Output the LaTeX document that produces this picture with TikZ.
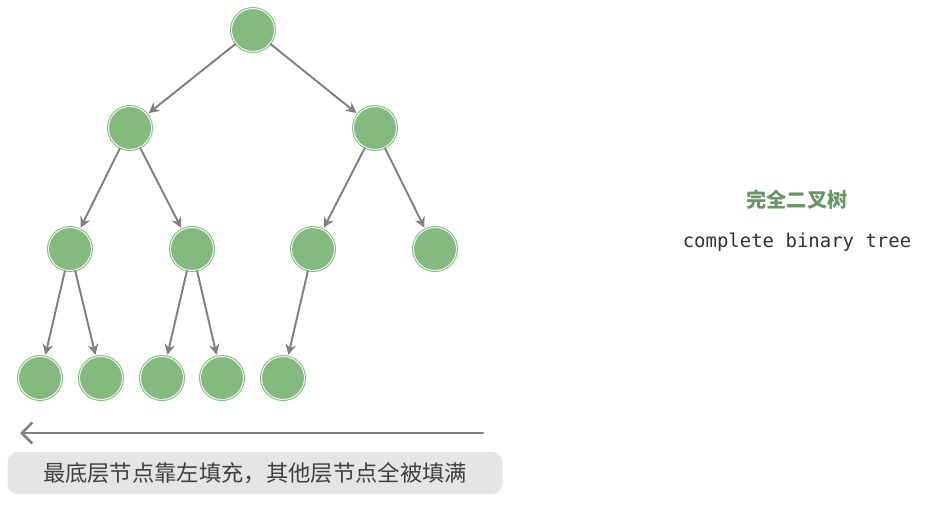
\documentclass[tikz,border=0pt]{standalone}
\usepackage{fontspec}
\newfontfamily\cjk{Noto Sans CJK SC}
\setmonofont{DejaVu Sans Mono}
\usetikzlibrary{arrows.meta}
\definecolor{nodegreen}{HTML}{84BA80}
\definecolor{edgegray}{HTML}{808080}
\definecolor{boxgray}{HTML}{E5E5E5}
\tikzset{
  treenode/.style={circle, fill=nodegreen, draw=nodegreen, double=white,
    double distance=0.5pt, line width=0.6pt, minimum size=0.86cm, inner sep=0pt},
  treeedge/.style={draw=edgegray, line width=1.1pt, -{Stealth[length=6pt,width=6pt]}, shorten >=1pt}
}
\begin{document}
\begin{tikzpicture}[x=0.02cm, y=-0.02cm]
    \useasboundingbox (0,0) rectangle (945,508);

    % levels of the tree
    \node[treenode] (r) at (253,30) {};
    \node[treenode] (a) at (130,128) {};
    \node[treenode] (b) at (375,128) {};
    \node[treenode] (aa) at (70,249) {};
    \node[treenode] (ab) at (192,249) {};
    \node[treenode] (ba) at (313,249) {};
    \node[treenode] (bb) at (435,249) {};
    \node[treenode] (aaa) at (40,378) {};
    \node[treenode] (aab) at (101,378) {};
    \node[treenode] (aba) at (162,378) {};
    \node[treenode] (abb) at (222,378) {};
    \node[treenode] (baa) at (283,378) {};

    \foreach \p/\c in {r/a, r/b, a/aa, a/ab, b/ba, b/bb, aa/aaa, aa/aab, ab/aba, ab/abb, ba/baa}
        \draw[treeedge] (\p) -- (\c);

    % bottom arrow and caption
    \coordinate (arrs) at (483,433);
    \coordinate (arre) at (20,433);
    \draw[draw=edgegray, line width=1.5pt, line cap=round, -{Straight Barb[length=6pt,width=12pt]}] (arrs) -- (arre);
    \node[fill=boxgray, rounded corners=6pt, minimum width=495*0.02cm, minimum height=42*0.02cm,
          font=\cjk\fontsize{12.7}{15}\selectfont, text=black!75] (cap) at (255,473)
          {最底层节点靠左填充，其他层节点全被填满};

    % title on the right
    \node[font=\cjk\bfseries\fontsize{11.5}{14}\selectfont, text=nodegreen!80!black] (title) at (797,200) {完全二叉树};
    \node[font=\ttfamily\fontsize{10.8}{13}\selectfont, text=black!80] (sub) at (797,242) {complete binary tree};
\end{tikzpicture}
\end{document}
